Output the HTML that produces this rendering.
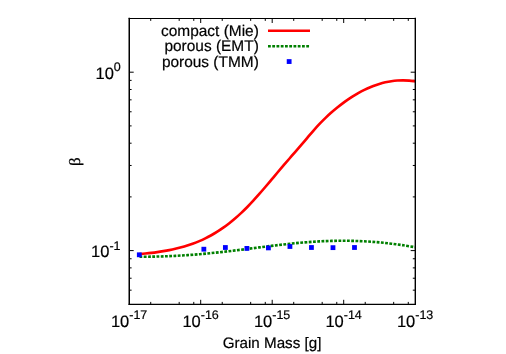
<!DOCTYPE html>
<html><head><meta charset="utf-8"><title>plot</title>
<style>
html,body{margin:0;padding:0;background:#fff;}
svg{display:block;text-rendering:geometricPrecision;font-family:"Liberation Sans",sans-serif;fill:#000;}
text{stroke:#000;stroke-width:0.2px;}
</style></head><body>
<div style="will-change:transform;width:506px;height:354px"><svg width="506" height="354" viewBox="0 0 506 354">
<path d="M150.72 304.30v-2.4M150.72 18.50v2.4M179.18 304.30v-2.4M179.18 18.50v2.4M193.77 304.30v-2.4M193.77 18.50v2.4M200.70 304.30v-4.5M200.70 18.50v4.5M222.22 304.30v-2.4M222.22 18.50v2.4M250.68 304.30v-2.4M250.68 18.50v2.4M265.27 304.30v-2.4M265.27 18.50v2.4M272.20 304.30v-4.5M272.20 18.50v4.5M293.72 304.30v-2.4M293.72 18.50v2.4M322.18 304.30v-2.4M322.18 18.50v2.4M336.77 304.30v-2.4M336.77 18.50v2.4M343.70 304.30v-4.5M343.70 18.50v4.5M365.22 304.30v-2.4M365.22 18.50v2.4M393.68 304.30v-2.4M393.68 18.50v2.4M408.27 304.30v-2.4M408.27 18.50v2.4M129.20 290.17h2.4M415.20 290.17h-2.4M129.20 278.23h2.4M415.20 278.23h-2.4M129.20 267.89h2.4M415.20 267.89h-2.4M129.20 258.76h2.4M415.20 258.76h-2.4M129.20 250.60h4.5M415.20 250.60h-4.5M129.20 196.90h2.4M415.20 196.90h-2.4M129.20 165.48h2.4M415.20 165.48h-2.4M129.20 143.19h2.4M415.20 143.19h-2.4M129.20 125.90h2.4M415.20 125.90h-2.4M129.20 111.78h2.4M415.20 111.78h-2.4M129.20 99.84h2.4M415.20 99.84h-2.4M129.20 89.49h2.4M415.20 89.49h-2.4M129.20 80.37h2.4M415.20 80.37h-2.4M129.20 72.20h4.5M415.20 72.20h-4.5" stroke="#000" stroke-width="1" fill="none"/>
<path d="M139.30 254.17 C140.30 254.07 143.30 253.77 145.30 253.55 C147.30 253.33 149.30 253.11 151.30 252.86 C153.30 252.62 155.30 252.36 157.30 252.08 C159.30 251.80 161.30 251.49 163.30 251.16 C165.30 250.83 167.30 250.48 169.30 250.09 C171.30 249.70 173.30 249.28 175.30 248.82 C177.30 248.36 179.30 247.86 181.30 247.32 C183.30 246.78 185.30 246.19 187.30 245.56 C189.30 244.93 191.30 244.25 193.30 243.51 C195.30 242.77 197.30 241.98 199.30 241.13 C201.30 240.28 203.30 239.37 205.30 238.39 C207.30 237.41 209.30 236.38 211.30 235.27 C213.30 234.16 215.30 232.97 217.30 231.71 C219.30 230.45 221.30 229.11 223.30 227.70 C225.30 226.29 227.30 224.80 229.30 223.23 C231.30 221.66 233.30 220.00 235.30 218.28 C237.30 216.56 239.30 214.76 241.30 212.88 C243.30 211.00 245.30 209.04 247.30 207.01 C249.30 204.98 251.30 202.85 253.30 200.68 C255.30 198.51 257.30 196.26 259.30 193.98 C261.30 191.70 263.30 189.36 265.30 187.01 C267.30 184.66 269.30 182.27 271.30 179.89 C273.30 177.51 275.30 175.11 277.30 172.74 C279.30 170.37 281.30 168.01 283.30 165.68 C285.30 163.35 287.30 161.05 289.30 158.75 C291.30 156.45 293.30 154.17 295.30 151.86 C297.30 149.56 299.30 147.26 301.30 144.92 C303.30 142.58 305.30 140.18 307.30 137.83 C309.30 135.48 311.30 133.07 313.30 130.80 C315.30 128.53 317.30 126.30 319.30 124.19 C321.30 122.08 323.30 120.08 325.30 118.15 C327.30 116.22 329.30 114.38 331.30 112.61 C333.30 110.84 335.30 109.16 337.30 107.54 C339.30 105.92 341.30 104.36 343.30 102.87 C345.30 101.39 347.30 99.97 349.30 98.63 C351.30 97.29 353.30 96.01 355.30 94.81 C357.30 93.61 359.30 92.49 361.30 91.43 C363.30 90.38 365.30 89.39 367.30 88.48 C369.30 87.57 371.30 86.74 373.30 85.98 C375.30 85.22 377.30 84.53 379.30 83.92 C381.30 83.31 383.30 82.78 385.30 82.33 C387.30 81.88 389.30 81.49 391.30 81.19 C393.30 80.89 395.30 80.66 397.30 80.52 C399.30 80.38 401.30 80.30 403.30 80.32 C405.30 80.33 407.35 80.44 409.30 80.61 C411.25 80.78 414.05 81.21 415.00 81.33" stroke="#ff0000" stroke-width="2.65" fill="none" stroke-linecap="butt" stroke-linejoin="round"/>
<path d="M139.50 256.69 C141.50 256.68 147.50 256.70 151.50 256.65 C155.50 256.59 159.50 256.49 163.50 256.36 C167.50 256.23 171.50 256.06 175.50 255.85 C179.50 255.64 183.50 255.40 187.50 255.12 C191.50 254.84 195.50 254.53 199.50 254.19 C203.50 253.85 207.50 253.49 211.50 253.09 C215.50 252.69 219.50 252.27 223.50 251.82 C227.50 251.37 231.50 250.90 235.50 250.41 C239.50 249.92 243.50 249.41 247.50 248.90 C251.50 248.39 255.50 247.88 259.50 247.37 C263.50 246.87 267.50 246.36 271.50 245.87 C275.50 245.38 279.50 244.90 283.50 244.46 C287.50 244.02 291.50 243.59 295.50 243.21 C299.50 242.83 303.50 242.48 307.50 242.18 C311.50 241.88 315.50 241.61 319.50 241.40 C323.50 241.19 327.50 241.03 331.50 240.92 C335.50 240.81 339.50 240.76 343.50 240.76 C347.50 240.76 351.50 240.82 355.50 240.94 C359.50 241.06 363.50 241.25 367.50 241.50 C371.50 241.75 375.50 242.05 379.50 242.42 C383.50 242.79 387.50 243.22 391.50 243.70 C395.50 244.18 399.58 244.74 403.50 245.32 C407.42 245.90 413.08 246.86 415.00 247.17" stroke="#008000" stroke-width="2.6" fill="none" stroke-dasharray="2.8 1.45"/>
<rect x="136.90" y="252.40" width="4.8" height="4.8" fill="#0000ff"/>
<rect x="201.45" y="246.80" width="4.8" height="4.8" fill="#0000ff"/>
<rect x="222.97" y="245.10" width="4.8" height="4.8" fill="#0000ff"/>
<rect x="244.49" y="246.00" width="4.8" height="4.8" fill="#0000ff"/>
<rect x="266.01" y="245.50" width="4.8" height="4.8" fill="#0000ff"/>
<rect x="287.53" y="244.10" width="4.8" height="4.8" fill="#0000ff"/>
<rect x="309.05" y="245.10" width="4.8" height="4.8" fill="#0000ff"/>
<rect x="330.57" y="245.25" width="4.8" height="4.8" fill="#0000ff"/>
<rect x="352.09" y="245.10" width="4.8" height="4.8" fill="#0000ff"/>
<path d="M129.20 18.50H415.20" stroke="#000" stroke-width="1.1" stroke-linecap="square"/>
<path d="M129.20 304.35H415.20" stroke="#000" stroke-width="1.25" stroke-linecap="square"/>
<path d="M129.25 18.50V304.35" stroke="#000" stroke-width="1.5" stroke-linecap="square"/>
<path d="M415.30 18.50V304.35" stroke="#000" stroke-width="1.4" stroke-linecap="square"/>
<g font-size="15.45px" text-anchor="end">
<text x="258.8" y="36">compact (Mie)</text>
<text x="258.8" y="51">porous (EMT)</text>
<text x="258.8" y="67">porous (TMM)</text>
</g>
<path d="M268 30.7H310" stroke="#ff0000" stroke-width="2.65"/>
<path d="M268 46.25H310" stroke="#008000" stroke-width="2.6" stroke-dasharray="2.8 1.45"/>
<rect x="286.75" y="59.15" width="4.8" height="4.8" fill="#0000ff"/>
<text x="110.90" y="327" font-size="16.50px">10<tspan font-size="12.50px" dy="-8">-17</tspan></text>
<text x="182.40" y="327" font-size="16.50px">10<tspan font-size="12.50px" dy="-8">-16</tspan></text>
<text x="253.90" y="327" font-size="16.50px">10<tspan font-size="12.50px" dy="-8">-15</tspan></text>
<text x="325.40" y="327" font-size="16.50px">10<tspan font-size="12.50px" dy="-8">-14</tspan></text>
<text x="396.90" y="327" font-size="16.50px">10<tspan font-size="12.50px" dy="-8">-13</tspan></text>
<text x="95.5" y="79" font-size="16.50px">10<tspan font-size="12.50px" dy="-8">0</tspan></text>
<text x="91.1" y="257" font-size="16.50px">10<tspan font-size="12.50px" dy="-7">-1</tspan></text>
<text x="272" y="348" font-size="15.2px" text-anchor="middle">Grain Mass [g]</text>
<text transform="translate(79.9,161.7) rotate(-90) scale(1,0.925)" font-family="Liberation Serif, serif" font-size="17px" stroke="none" text-anchor="middle">β</text>
</svg></div>
</body></html>
